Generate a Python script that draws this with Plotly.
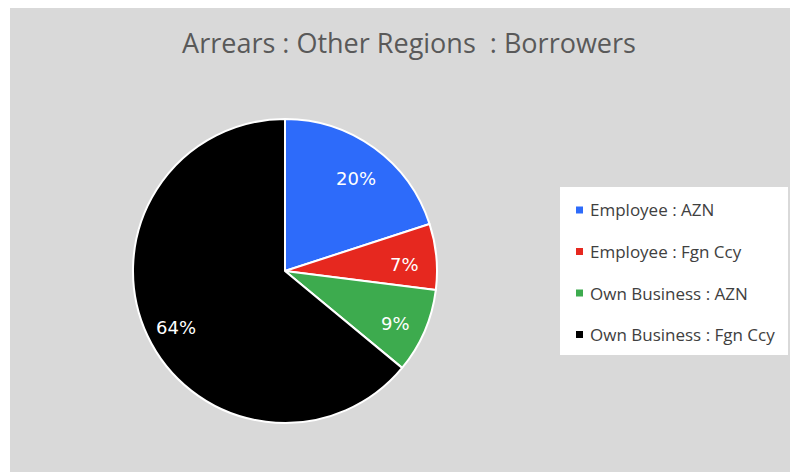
import numpy as np
import plotly.graph_objects as go

# Borrower arrears breakdown for other regions
labels = ["Employee : AZN", "Employee : Fgn Ccy", "Own Business : AZN", "Own Business : Fgn Ccy"]
values = [20, 7, 9, 64]
colors = ["#2d6bfa", "#e6281f", "#3dab4e", "#000000"]

W, H = 790, 472
BG = "#d9d9d9"

# pie geometry in pixels
CX, CY, R = 285, 271, 152

fig = go.Figure()
fig.add_trace(go.Pie(
    labels=labels,
    values=values,
    sort=False,
    direction="clockwise",
    rotation=0,
    marker=dict(colors=colors, line=dict(color="white", width=2)),
    textinfo="none",
    domain=dict(x=[(CX - R) / W, (CX + R) / W], y=[(H - CY - R) / H, (H - CY + R) / H]),
    showlegend=False,
    hoverinfo="label+percent",
))

# percentage labels placed along each slice's mid-angle
vals = np.array(values, dtype=float)
frac = vals / vals.sum()
mid = (np.cumsum(frac) - frac / 2) * 2 * np.pi
annotations = []
for f, a in zip(frac, mid):
    rr = 0.79 * R
    px = CX + rr * np.sin(a)
    py = CY - rr * np.cos(a) + 5
    annotations.append(dict(x=px / W, y=1 - py / H, xref="paper", yref="paper",
                            xanchor="center", yanchor="middle", showarrow=False,
                            text=f"{round(f * 100):.0f}%",
                            font=dict(family="DejaVu Sans", size=18, color="white")))

shapes = [
    # white strip along the top and left edges of the page
    dict(type="rect", xref="paper", yref="paper", x0=0, x1=1, y0=1 - 8 / H, y1=1,
         fillcolor="white", line=dict(width=0), layer="below"),
    dict(type="rect", xref="paper", yref="paper", x0=0, x1=10 / W, y0=0, y1=1,
         fillcolor="white", line=dict(width=0), layer="below"),
    # legend box
    dict(type="rect", xref="paper", yref="paper",
         x0=560 / W, x1=788 / W, y0=1 - 355 / H, y1=1 - 187 / H,
         fillcolor="white", line=dict(width=0), layer="below"),
]
for i, (lab, col) in enumerate(zip(labels, colors)):
    yc = 210 + i * 41.5
    shapes.append(dict(type="rect", xref="paper", yref="paper",
                       x0=576 / W, x1=583 / W, y0=1 - (yc + 3.5) / H, y1=1 - (yc - 3.5) / H,
                       fillcolor=col, line=dict(width=0)))
    annotations.append(dict(x=588 / W, y=1 - yc / H, xref="paper", yref="paper",
                            xanchor="left", yanchor="middle", showarrow=False,
                            text=lab, font=dict(family="Open Sans", size=17, color="#404040")))

fig.update_layout(
    width=W, height=H,
    margin=dict(l=0, r=0, t=0, b=0),
    paper_bgcolor=BG,
    plot_bgcolor=BG,
    title=dict(text="Arrears : Other Regions  : Borrowers", x=409 / W, xanchor="center",
               y=1 - 44 / H, yanchor="middle",
               font=dict(family="Open Sans", size=27, color="#595959")),
    shapes=shapes,
    annotations=annotations,
)

fig.write_html("out.html")
